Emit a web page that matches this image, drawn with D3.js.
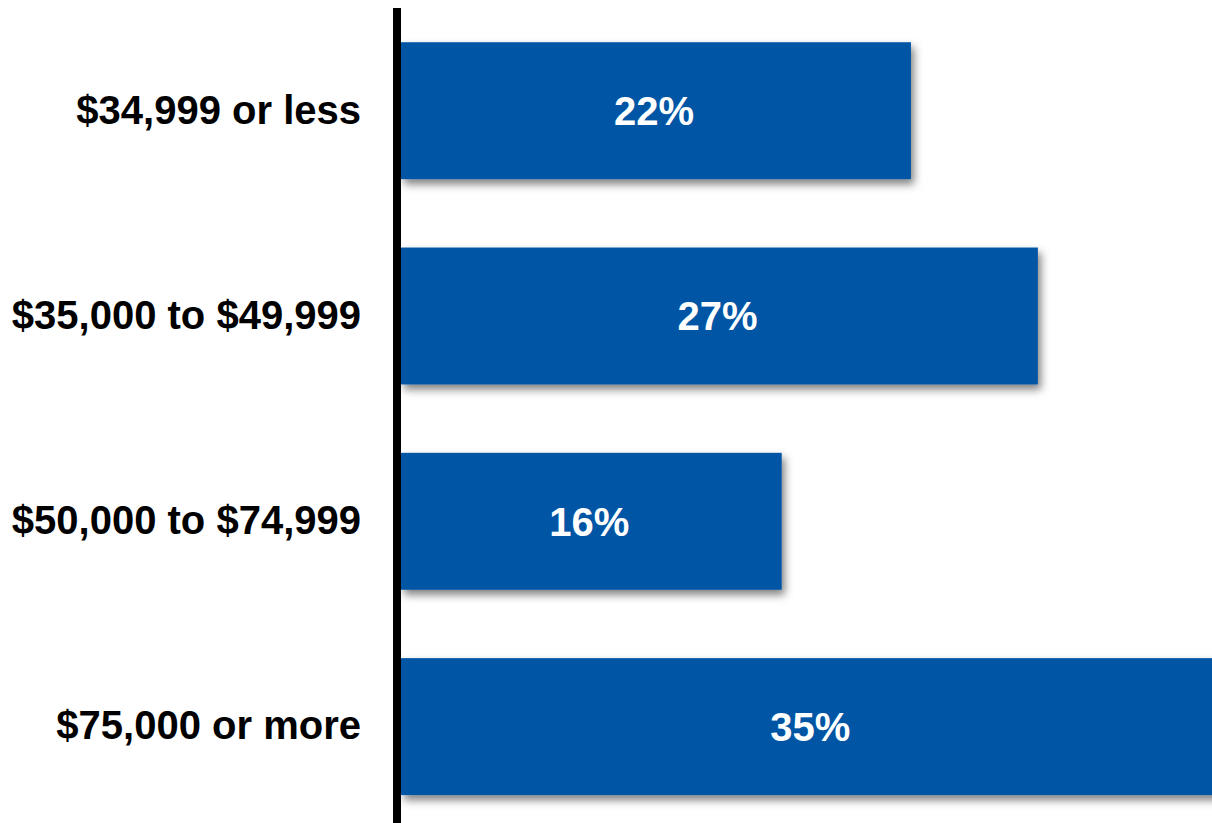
<!DOCTYPE html>
<html>
<head>
<meta charset="utf-8">
<script src="https://cdn.jsdelivr.net/npm/d3@7"></script>
<style>
  html, body { margin: 0; padding: 0; background: #fff; overflow: hidden; }
  svg { display: block; }
</style>
</head>
<body>
<script>
const categories = ["$34,999 or less", "$35,000 to $49,999", "$50,000 to $74,999", "$75,000 or more"];
const values = [0.217, 0.271, 0.162, 0.35];

const W = 1212, H = 823;
const x0 = 401;
const svg = d3.select("body").append("svg").attr("width", W).attr("height", H);

const defs = svg.append("defs");
const f = defs.append("filter").attr("id", "shadow").attr("x", "-5%").attr("y", "-20%").attr("width", "120%").attr("height", "150%");
f.append("feDropShadow").attr("dx", 3).attr("dy", 5).attr("stdDeviation", 4)
  .attr("flood-color", "#000").attr("flood-opacity", 0.5);

const x = d3.scaleLinear().domain([0, 0.35]).range([x0, x0 + 822.5]);
const y = d3.scaleBand().domain(categories).range([8, 829.3]).paddingInner(0.333).paddingOuter(0.1667);

const data = categories.map((c, i) => ({ c, v: values[i] }));

svg.append("g").selectAll("rect").data(data).join("rect")
  .attr("x", x(0))
  .attr("y", d => y(d.c))
  .attr("width", d => x(d.v) - x(0))
  .attr("height", y.bandwidth())
  .attr("fill", "#0255A5")
  .attr("filter", "url(#shadow)");

svg.append("g").selectAll("text").data(data).join("text")
  .attr("x", d => (x(0) + x(d.v)) / 2 - 2)
  .attr("y", d => y(d.c) + y.bandwidth() / 2)
  .attr("dy", "0.36em")
  .attr("text-anchor", "middle")
  .attr("fill", "#fff")
  .attr("font-family", "Liberation Sans, Arial, sans-serif")
  .attr("font-weight", "bold")
  .attr("font-size", 40)
  .text(d => d3.format(".0%")(d.v));

const axis = d3.axisLeft(y).tickSize(0).tickPadding(36);
const ag = svg.append("g").attr("transform", `translate(${x0 - 4},0)`).call(axis);
ag.select(".domain").remove();
ag.append("line").attr("x1", 0).attr("x2", 0).attr("y1", 8).attr("y2", H)
  .attr("stroke", "#000").attr("stroke-width", 8);
ag.selectAll(".tick text")
  .attr("fill", "#000")
  .attr("font-family", "Liberation Sans, Arial, sans-serif")
  .attr("font-weight", "bold")
  .attr("font-size", 40);
</script>
</body>
</html>
